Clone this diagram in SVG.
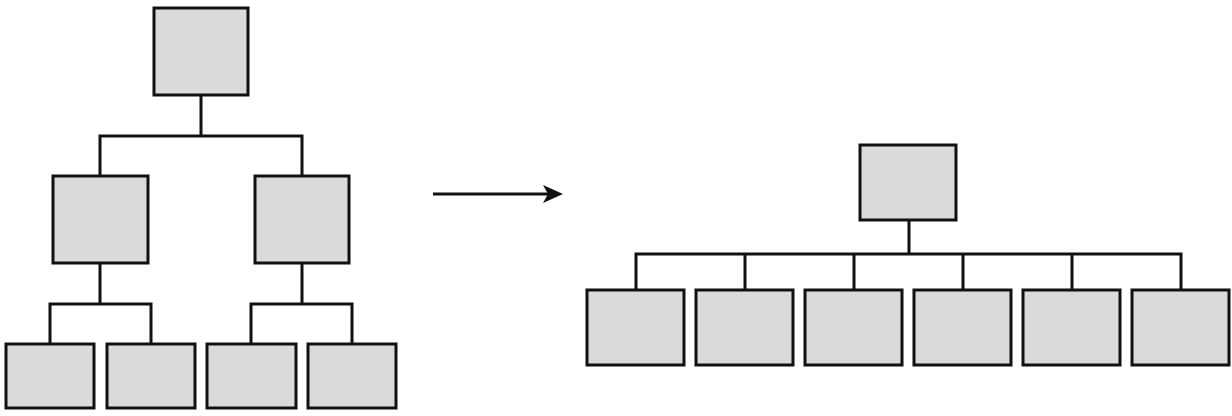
<svg xmlns="http://www.w3.org/2000/svg" width="1232" height="416" viewBox="0 0 1232 416">
<style>
.n{fill:#dadada;stroke:#111;stroke-width:3}
.e{fill:none;stroke:#111;stroke-width:3}
</style>
<defs>
<marker id="ah" markerUnits="userSpaceOnUse" markerWidth="24" markerHeight="20" refX="7" refY="10" orient="auto" viewBox="0 0 24 20">
<path d="M2,1 L22,10 L2,19 L7,10 Z" fill="#111"/>
</marker>
</defs>
<g id="connectors">
<path class="e" d="M201,95 V136 M100,176 V136 H302 V176"/>
<path class="e" d="M100,263 V304 M50,344 V304 H151 V344"/>
<path class="e" d="M302,263 V304 M251,344 V304 H352 V344"/>
<path class="e" d="M433,194 H548" marker-end="url(#ah)"/>
<path class="e" d="M909,220 V254 M636,290 V254 H1181 V290 M745,254 V290 M854,254 V290 M963,254 V290 M1072,254 V290"/>
</g>
<g id="a_root"><rect class="n" x="154" y="8" width="94" height="87"/></g>
<g id="a_l"><rect class="n" x="53" y="176" width="95" height="87"/></g>
<g id="a_r"><rect class="n" x="255" y="176" width="94" height="87"/></g>
<g id="a_ll"><rect class="n" x="6" y="344" width="88" height="64"/></g>
<g id="a_lr"><rect class="n" x="107" y="344" width="88" height="64"/></g>
<g id="a_rl"><rect class="n" x="207" y="344" width="89" height="64"/></g>
<g id="a_rr"><rect class="n" x="308" y="344" width="88" height="64"/></g>
<g id="b_root"><rect class="n" x="860" y="145" width="96" height="75"/></g>
<g id="b_1"><rect class="n" x="587" y="290" width="97" height="75"/></g>
<g id="b_2"><rect class="n" x="696" y="290" width="97" height="75"/></g>
<g id="b_3"><rect class="n" x="805" y="290" width="97" height="75"/></g>
<g id="b_4"><rect class="n" x="914" y="290" width="97" height="75"/></g>
<g id="b_5"><rect class="n" x="1023" y="290" width="97" height="75"/></g>
<g id="b_6"><rect class="n" x="1132" y="290" width="97" height="75"/></g>
</svg>
